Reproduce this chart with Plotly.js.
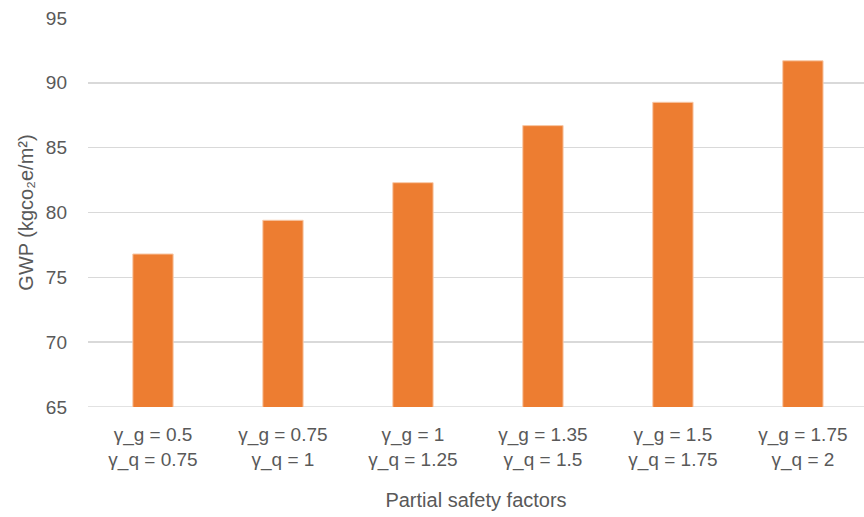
<!DOCTYPE html>
<html>
<head>
<meta charset="utf-8">
<script src="https://cdn.plot.ly/plotly-3.0.1.min.js"></script>
<style>html,body{margin:0;padding:0;background:#fff;}#chart{width:864px;height:517px;}</style>
</head>
<body>
<div id="chart"></div>
<script>
const categories = [
  "γ_g = 0.5<br>γ_q = 0.75",
  "γ_g = 0.75<br>γ_q = 1",
  "γ_g = 1<br>γ_q = 1.25",
  "γ_g = 1.35<br>γ_q = 1.5",
  "γ_g = 1.5<br>γ_q = 1.75",
  "γ_g = 1.75<br>γ_q = 2"
];
const gwp = [76.8, 79.4, 82.3, 86.7, 88.5, 91.7];
const yTicks = [65, 70, 75, 80, 85, 90, 95];

const font = "Liberation Sans, Arial, sans-serif";
Plotly.newPlot("chart", [{
  type: "bar",
  x: categories.map((_, i) => i),
  y: gwp,
  marker: {color: "#ED7D31", line: {color: "#F8C9A8", width: 1}},
  hoverinfo: "y"
}], {
  width: 864, height: 517,
  margin: {l: 88, r: 0, t: 18, b: 110},
  paper_bgcolor: "#fff", plot_bgcolor: "#fff",
  showlegend: false,
  bargap: 0.69,
  font: {family: font, color: "#595959", size: 18},
  xaxis: {
    range: [-0.5, 5.47],
    tickmode: "array",
    tickvals: categories.map((_, i) => i),
    ticktext: categories,
    showgrid: false, zeroline: false, showline: false,
    ticks: "",
    ticklabelstandoff: 14,
    tickfont: {size: 19, color: "#595959"},
    title: {text: "Partial safety factors", font: {size: 20, color: "#595959"}, standoff: 23}
  },
  yaxis: {
    range: [65, 95],
    tickmode: "array",
    tickvals: yTicks,
    ticktext: yTicks.map(String),
    showgrid: true, gridcolor: "#D9D9D9", gridwidth: 1.5,
    zeroline: false, showline: false,
    ticks: "",
    ticklabelstandoff: 20,
    tickfont: {size: 19, color: "#595959"},
    title: {text: "GWP (kgco₂e/m²)", font: {size: 20, color: "#595959"}, standoff: 6}
  },
  shapes: [{type: "line", xref: "paper", yref: "y", x0: 0, x1: 1, y0: 65, y1: 65,
            line: {color: "#D9D9D9", width: 1.5}, layer: "below"}]
}, {staticPlot: true});
</script>
</body>
</html>
